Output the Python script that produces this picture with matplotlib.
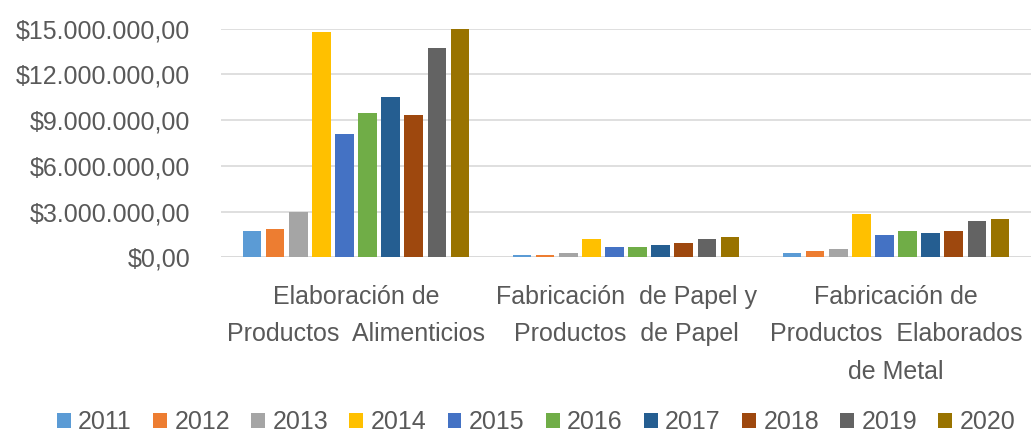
import numpy as np
import matplotlib.pyplot as plt
from matplotlib.ticker import FuncFormatter, MultipleLocator

# data (values in pesos)
categories = ["Elaboración de\nProductos  Alimenticios",
              "Fabricación  de Papel y\nProductos  de Papel",
              "Fabricación de\nProductos  Elaborados\nde Metal"]
years = ["2011", "2012", "2013", "2014", "2015", "2016", "2017", "2018", "2019", "2020"]

alimenticios = [1750000, 1880000, 2950000, 14760000, 8070000, 9490000, 10540000, 9360000, 13710000, 15020000]
papel = [120000, 160000, 300000, 1220000, 690000, 680000, 820000, 970000, 1220000, 1350000]
metal = [300000, 430000, 560000, 2820000, 1480000, 1740000, 1610000, 1740000, 2400000, 2530000]

colors = ["#5B9BD5", "#ED7D31", "#A5A5A5", "#FFC000", "#4472C4",
          "#70AD47", "#255E91", "#9E480E", "#636363", "#997300"]

plt.rcParams['font.family'] = ["Liberation Sans", "DejaVu Sans"]
gray = "#595959"

values = np.array([alimenticios, papel, metal])  # shape (3 categories, 10 years)

fig = plt.figure(figsize=(10.31, 4.37), dpi=100)
ax = fig.add_axes([221 / 1031, 179.7 / 437, 810 / 1031, 228.6 / 437])

x = np.arange(len(categories))
n = len(years)
group_w = 0.855
slot = group_w / n
for i in range(n):
    offs = -group_w / 2 + slot * (i + 0.5)
    ax.bar(x + offs, values[:, i], width=slot * 0.8, color=colors[i],
           label=years[i], zorder=3)

ax.set_xlim(-0.5, len(categories) - 0.5)
ax.set_ylim(0, 15000000)
ax.yaxis.set_major_locator(MultipleLocator(3000000))


def pesos(v, pos):
    s = f"{v:,.2f}"
    s = s.replace(",", "X").replace(".", ",").replace("X", ".")
    return "$" + s


ax.yaxis.set_major_formatter(FuncFormatter(pesos))
ax.grid(axis="y", color="#D9D9D9", linewidth=1.2, zorder=0)
for sp in ax.spines.values():
    sp.set_visible(False)
ax.axhline(0, color="#D9D9D9", linewidth=1.2, zorder=1)

ax.set_xticks(x)
ax.set_xticklabels(categories, linespacing=1.7)
ax.tick_params(axis="y", length=0, pad=22, labelsize=18, labelcolor=gray)
ax.tick_params(axis="x", length=0, pad=20, labelsize=18, labelcolor=gray)

fig.legend(loc="lower center", bbox_to_anchor=(0.52, -0.045), ncol=n,
           frameon=False, fontsize=18, labelcolor=gray,
           handlelength=0.55, handleheight=0.55, handletextpad=0.3,
           columnspacing=0.85)

fig.savefig("out.png", dpi=100)
